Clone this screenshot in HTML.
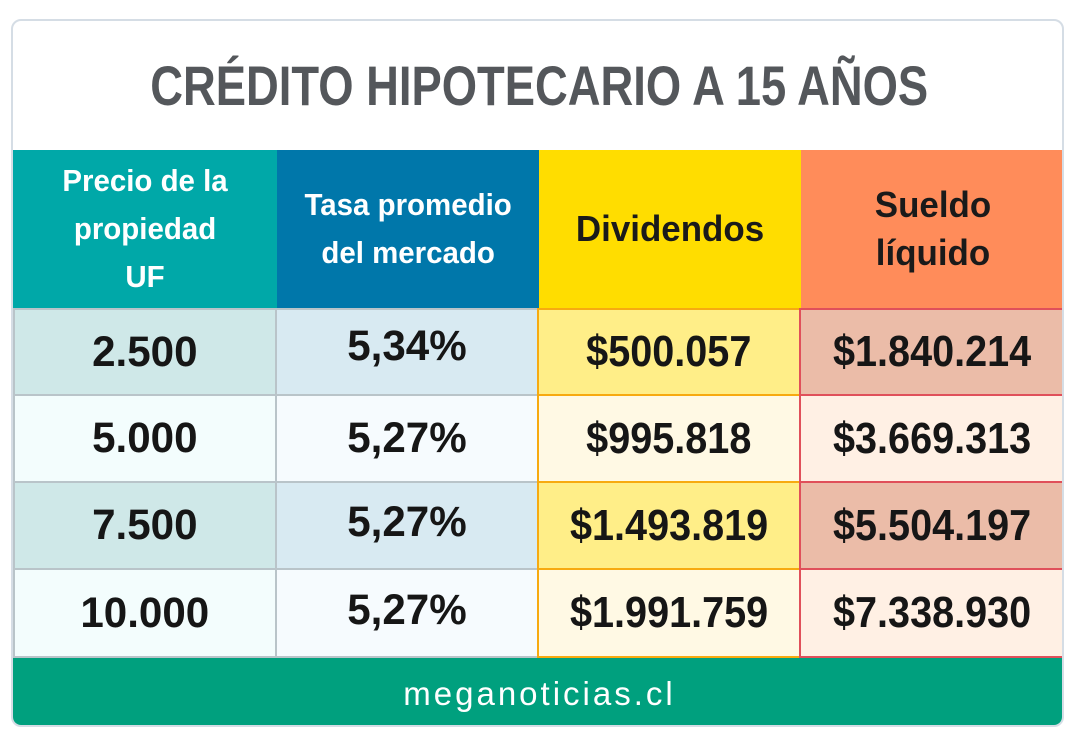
<!DOCTYPE html>
<html><head><meta charset="utf-8"><style>
*{margin:0;padding:0;box-sizing:border-box}
body{width:1080px;height:742px;background:#fff;position:relative;overflow:hidden;font-family:"Liberation Sans",sans-serif}
.card{position:absolute;left:11px;top:19px;width:1053px;height:708px;border:2px solid #d5dde5;border-radius:10px;overflow:hidden;background:#fff}
.c{position:absolute;display:flex;align-items:center;justify-content:center;text-align:center}
.s{display:inline-block;transform:scaleX(0.8);white-space:nowrap}
.h{color:#fff;font-weight:bold;font-size:31px;line-height:48px}
.h .s{transform:scaleX(0.95)}
.hd{color:#1a1a1a;font-weight:bold;font-size:36px;line-height:48px}
.hd .s{transform:scaleX(0.97)}
.n{font-size:43px;color:#161616;font-weight:bold}
.n .s{transform:scaleX(0.98)}
.b{font-size:44px;font-weight:bold;color:#161616}
.b .s{transform:scaleX(0.9)}
</style></head><body>
<div class="card">
<div class="c" style="left:0;top:0;width:1053px;height:129px"><span class="s" style="font-size:56px;font-weight:bold;color:#54575b;transform:scaleX(0.81)">CRÉDITO HIPOTECARIO A 15 AÑOS</span></div>

<div class="c h" style="left:0;top:129px;width:264px;height:158px;background:#00a8a8"><span class="s">Precio de la<br>propiedad<br>UF</span></div>
<div class="c h" style="left:264px;top:129px;width:262px;height:158px;background:#0077aa"><span class="s">Tasa promedio<br>del mercado</span></div>
<div class="c hd" style="left:526px;top:129px;width:262px;height:158px;background:#ffdd00"><span class="s">Dividendos</span></div>
<div class="c hd" style="left:788px;top:129px;width:265px;height:158px;background:#ff8c5a"><span class="s">Sueldo<br>líquido</span></div>

<div class="c n" style="left:0;top:287px;width:264px;height:88px;background:#cfe8e8;border:2px solid #b9c4c9"><span class="s">2.500</span></div>
<div class="c n" style="left:262px;top:287px;width:264px;height:88px;background:#d8eaf2;border:2px solid #b9c4c9;padding-bottom:12px"><span class="s">5,34%</span></div>
<div class="c b" style="left:524px;top:287px;width:264px;height:88px;background:#ffee88;border:2px solid #f7aa10"><span class="s">$500.057</span></div>
<div class="c b" style="left:786px;top:287px;width:267px;height:88px;background:#ebbca8;border:2px solid #e0505a"><span class="s">$1.840.214</span></div>

<div class="c n" style="left:0;top:373px;width:264px;height:89px;background:#f3fdfd;border:2px solid #b9c4c9"><span class="s">5.000</span></div>
<div class="c n" style="left:262px;top:373px;width:264px;height:89px;background:#f6fbfe;border:2px solid #b9c4c9"><span class="s">5,27%</span></div>
<div class="c b" style="left:524px;top:373px;width:264px;height:89px;background:#fff9e4;border:2px solid #f7aa10"><span class="s">$995.818</span></div>
<div class="c b" style="left:786px;top:373px;width:267px;height:89px;background:#fff0e4;border:2px solid #e0505a"><span class="s">$3.669.313</span></div>

<div class="c n" style="left:0;top:460px;width:264px;height:89px;background:#cfe8e8;border:2px solid #b9c4c9"><span class="s">7.500</span></div>
<div class="c n" style="left:262px;top:460px;width:264px;height:89px;background:#d8eaf2;border:2px solid #b9c4c9;padding-bottom:6px"><span class="s">5,27%</span></div>
<div class="c b" style="left:524px;top:460px;width:264px;height:89px;background:#ffee88;border:2px solid #f7aa10"><span class="s">$1.493.819</span></div>
<div class="c b" style="left:786px;top:460px;width:267px;height:89px;background:#ebbca8;border:2px solid #e0505a"><span class="s">$5.504.197</span></div>

<div class="c n" style="left:0;top:547px;width:264px;height:90px;background:#f3fdfd;border:2px solid #b9c4c9"><span class="s">10.000</span></div>
<div class="c n" style="left:262px;top:547px;width:264px;height:90px;background:#f6fbfe;border:2px solid #b9c4c9;padding-bottom:6px"><span class="s">5,27%</span></div>
<div class="c b" style="left:524px;top:547px;width:264px;height:90px;background:#fff9e4;border:2px solid #f7aa10"><span class="s">$1.991.759</span></div>
<div class="c b" style="left:786px;top:547px;width:267px;height:90px;background:#fff0e4;border:2px solid #e0505a"><span class="s">$7.338.930</span></div>

<div class="c" style="left:0;top:637px;width:1053px;height:71px;background:#00a07e;color:#fff;font-size:33px;letter-spacing:3px"><span>meganoticias.cl</span></div>
</div>
</body></html>
